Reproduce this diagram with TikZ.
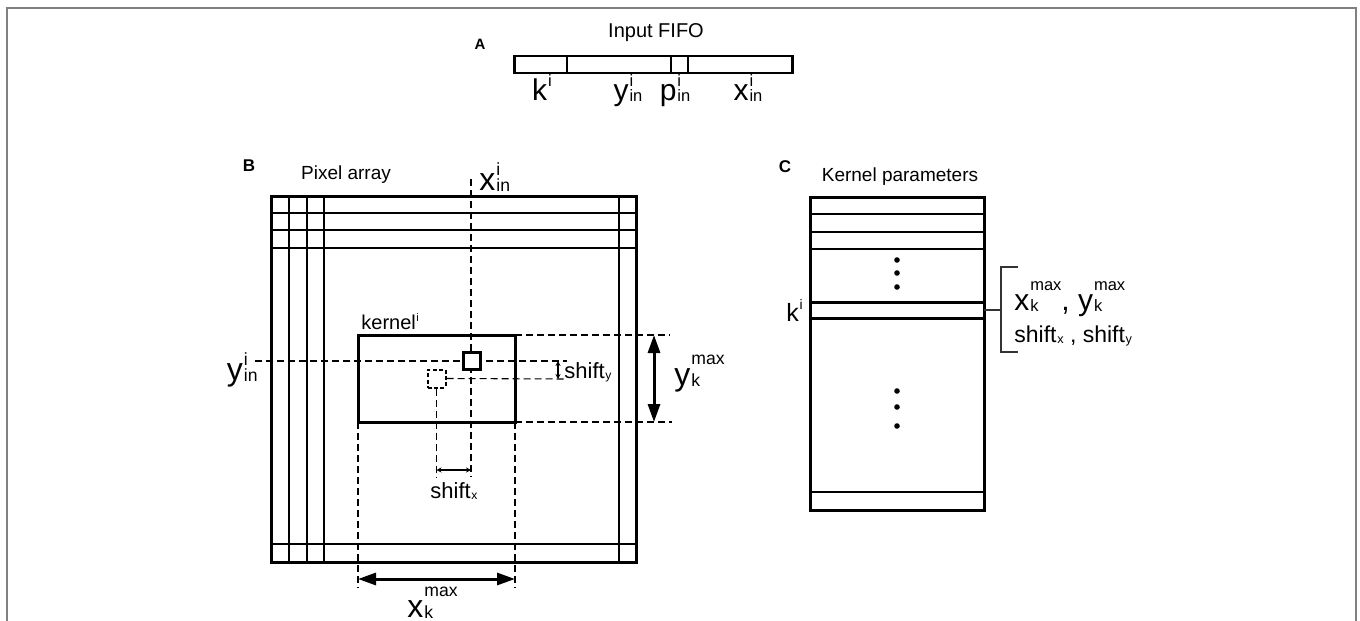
\documentclass[tikz,border=0pt]{standalone}
\usepackage{graphicx}
\usepackage{fontspec}
\setmainfont{Liberation Sans}
\usetikzlibrary{arrows.meta}

\newsavebox\supbox
\newsavebox\subbox
\newcommand{\ssc}[4][.45em]{#2\kern.03em%
  \sbox\supbox{\scalebox{.55}{#3}}\sbox\subbox{\scalebox{.55}{#4}}%
  \rlap{\raisebox{#1}{\usebox\supbox}}\raisebox{-.05em}{\usebox\subbox}%
  \ifdim\wd\supbox>\wd\subbox\kern\dimexpr\wd\supbox-\wd\subbox\relax\fi}

\begin{document}
\begin{tikzpicture}[
        x=0.5pt, y=-0.5pt,
        frame/.style={draw=black!50, line width=1pt},
        thickbox/.style={draw, line width=1.5pt, inner sep=0pt, outer sep=0pt},
        gridline/.style={line width=0.6pt},
        guide/.style={dash pattern=on 3.5pt off 2pt, line width=0.55pt},
        dimarrow/.style={line width=1.5pt, {Triangle[length=9pt,width=6pt]}-{Triangle[length=9pt,width=6pt]}},
        smallarrow/.style={line width=0.55pt, {Stealth[length=2.5pt,width=2.5pt]}-{Stealth[length=2.5pt,width=2.5pt]}},
        panel/.style={font=\bfseries\fontsize{8.5}{10}\selectfont, inner sep=0pt},
        caption/.style={font=\fontsize{9.5}{11}\selectfont, inner sep=0pt},
        biglabel/.style={font=\fontsize{16}{18}\selectfont, inner sep=0pt},
        midlabel/.style={font=\fontsize{15}{17}\selectfont, inner sep=0pt},
        shiftlabel/.style={font=\fontsize{11}{13}\selectfont, inner sep=0pt}
    ]
    \useasboundingbox (0,0) rectangle (1360,621);
    \draw[frame] (7,621) -- (7,8) -- (1356,8) -- (1356,621);

    % A: input FIFO
    \node[panel, font=\bfseries\fontsize{7.5}{9}\selectfont] (lA) at (480,44) {A};
    \node[caption, font=\fontsize{10}{12}\selectfont] (tfifo) at (656,33) {Input FIFO};
    \node[thickbox, line width=1.1pt, minimum width=139pt, minimum height=8.5pt] (fifo) at (653.5,64.5) {};
    \foreach \fx in {567,671,688}
        \draw[line width=1.1pt] (\fx,56) -- (\fx,73);
    \node[midlabel, anchor=base] (fk) at (542,100) {\ssc{k}{i}{}};
    \node[midlabel, anchor=base] (fy) at (628,100) {\ssc{y}{i}{in}};
    \node[midlabel, anchor=base] (fp) at (675,100) {\ssc{p}{i}{in}};
    \node[midlabel, anchor=base] (fx) at (748,100) {\ssc{x}{i}{in}};

    % B: pixel array
    \node[panel] (lB) at (249,166) {B};
    \node[caption] (tpix) at (346,175) {Pixel array};
    \node[thickbox, minimum width=182.5pt, minimum height=183pt] (pix) at (453.5,379) {};
    \foreach \gx in {289,307,324,619}
        \draw[gridline] (\gx,196) -- (\gx,562);
    \foreach \gy in {213,230,248,544}
        \draw[gridline] (271,\gy) -- (636,\gy);

    \node[thickbox, minimum width=78.5pt, minimum height=43.5pt] (kern) at (436.5,378.5) {};
    \node[draw, line width=1pt, dash pattern=on 2pt off 1.2pt, minimum size=9pt, inner sep=0pt] (pxs) at (436.5,378.5) {};

    \coordinate (xtop) at (471,179);
    \coordinate (xbot) at (471,477);
    \coordinate (yleft) at (255,361);
    \coordinate (yright) at (567,361);
    \coordinate (sright) at (567,379);
    \coordinate (sbot) at (436.5,477);
    \coordinate (ktop) at (670,335);
    \coordinate (kbot) at (672,422);
    \coordinate (kleft) at (358,588);
    \coordinate (kright) at (515,588);
    \draw[guide] (xtop) -- (xbot);
    \draw[guide] (yleft) -- (yright);
    \draw[guide] (pxs.east) -- (sright);
    \draw[guide] (pxs.south) -- (sbot);
    \draw[guide] (kern.north east) -- (ktop);
    \draw[guide] (kern.south east) -- (kbot);
    \draw[guide] (kern.south west) -- (kleft);
    \draw[guide] (kern.south east) -- (kright);

    \node[thickbox, fill=white, minimum size=8.5pt] (pxl) at (471.5,361) {};

    \draw[smallarrow] (558,361) -- (558,379);
    \draw[smallarrow] (436.5,470) -- (471,470);
    \draw[dimarrow] (654,335) -- (654,422);
    \draw[dimarrow] (358,579) -- (515,579);

    \node[biglabel, anchor=base west] (lxin) at (479,190) {\ssc{x}{i}{in}};
    \node[biglabel, anchor=base east] (lyin) at (258,380) {\ssc{y}{i}{in}};
    \node[caption, font=\fontsize{10}{12}\selectfont, anchor=base west] (lkern) at (361,329) {\ssc[.4em]{kernel}{i}{}};
    \node[shiftlabel, anchor=base west] (lsy) at (564,378) {\ssc{shift}{}{y}};
    \node[shiftlabel, anchor=base] (lsx) at (454,498) {\ssc{shift}{}{x}};
    \node[biglabel, anchor=base west] (lyk) at (674,385) {\ssc[.65em]{y}{max}{k}};
    \node[biglabel, anchor=base west] (lxk) at (407,617) {\ssc[.65em]{x}{max}{k}};

    % C: kernel parameters
    \node[panel] (lC) at (785,167) {C};
    \node[caption] (tkpar) at (900,177) {Kernel parameters};
    \node[thickbox, minimum width=87pt, minimum height=156.5pt] (kpar) at (897,353.5) {};
    \foreach \ry in {214,232,249,492}
        \draw[gridline] (810,\ry) -- (984,\ry);
    \foreach \ry in {302,318}
        \draw[line width=1.5pt] (810,\ry) -- (984,\ry);
    \foreach \dy in {260,273,287,391,407,426}
        \fill (897,\dy) circle (1.4pt);

    \node[font=\fontsize{12.5}{14}\selectfont, inner sep=0pt, anchor=base east] (lki) at (803,321) {\ssc{k}{i}{}};
    \coordinate (krow) at (984,310);
    \coordinate (bmid) at (1001,310);
    \draw[line width=0.7pt, black!80] (krow) -- (bmid);
    \draw[line width=0.7pt, black!80] (1018,267) -- (1001,267) -- (1001,352) -- (1018,352);
    \node[midlabel, anchor=base west] (lmax) at (1014,310) {\ssc[.65em]{x}{max}{k}, \ssc[.65em]{y}{max}{k}};
    \node[shiftlabel, font=\fontsize{11.5}{13}\selectfont, anchor=base west] (lshift) at (1014,342) {\ssc{shift}{}{x} , \ssc{shift}{}{y}};
\end{tikzpicture}
\end{document}
